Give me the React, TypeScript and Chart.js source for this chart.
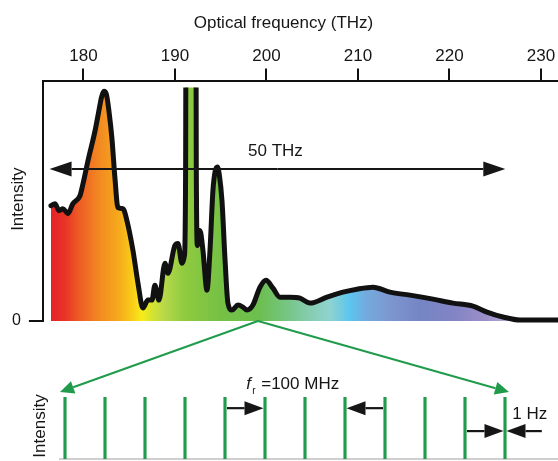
import React, { useEffect, useRef } from "react";
import { Chart, registerables } from "chart.js";

Chart.register(...registerables);

// ---------- data ----------
const specFreq = [176.45, 176.89, 177.32, 177.76, 178.31, 178.85, 179.62, 179.95, 180.49, 181.26, 181.8, 181.97, 182.24, 182.51, 182.79, 183.11, 183.44, 183.77, 184.32, 184.75, 185.41, 185.96, 186.5, 187.05, 187.49, 187.81, 188.25, 188.91, 189.23, 190.0, 190.33, 190.77, 191.04, 191.17, 191.22, 192.27, 192.33, 192.46, 192.73, 193.06, 193.5, 193.83, 194.15, 194.4, 194.64, 194.85, 195.14, 195.46, 195.79, 196.23, 196.89, 197.43, 197.87, 198.52, 199.29, 199.95, 200.71, 201.48, 202.57, 203.66, 204.75, 206.61, 208.36, 209.89, 211.64, 213.5, 215.68, 218.2, 220.38, 222.57, 224.1, 225.85, 227.71, 229.35, 231.86];
const specInt = [116, 118, 111, 113, 108, 118, 126, 138, 161, 191, 217, 225, 231, 228, 211, 184, 144, 114, 113, 101, 71, 38, 13, 21, 21, 36, 21, 58, 48, 76, 78, 58, 66, 161, 420, 420, 161, 76, 91, 71, 31, 71, 131, 151, 155, 147, 121, 64, 18, 11, 16, 14, 11, 16, 34, 41, 33, 24, 24, 23, 18, 24, 29, 32, 34, 29, 26, 22, 18, 15, 9, 4, 1, 1, 1];
const tickValues = [180, 190, 200, 210, 220, 230];
const xAxisTitle = "Optical frequency (THz)";
const yAxisTitle = "Intensity";
const spanStart = 176.3;
const spanEnd = 226.1;
const spanLabel = "50 THz";
const apexFreq = 199.07;

const combLines = [0, 1, 2, 3, 4, 5, 6, 7, 8, 9, 10, 11];
const combIntensity = [1, 1, 1, 1, 1, 1, 1, 1, 1, 1, 1, 1];
const repLabel = "=100 MHz";
const widthLabel = "1 Hz";

// ---------- styles ----------
const FONT = "'Liberation Sans', Arial, sans-serif";
const INK = "#161616";
const GREEN = "#1f9b4b";
const gradStops: [number, string][] = [
  [176.45, "#e42228"], [177.98, "#e83426"], [179.62, "#ee5e24"], [181.8, "#f28a21"],
  [183.99, "#f6ac1c"], [185.41, "#f8cf18"], [186.39, "#f9ec1a"], [187.27, "#dbe52c"],
  [188.91, "#b5d84a"], [191.09, "#8fca3f"], [194.92, "#76c145"], [199.29, "#6cbf4f"],
  [202.57, "#78c68a"], [204.75, "#86cdb0"], [206.94, "#8fd3d0"], [209.13, "#5bc5ef"],
  [210.77, "#72acde"], [213.5, "#7d97d0"], [216.78, "#7585c4"], [220.6, "#8384c4"],
  [223.88, "#9b8fc9"], [226.62, "#b6a8d6"], [229.89, "#d2c9e6"], [231.86, "#e0dcee"],
];

function specGradient(c: any) {
  const chart = c.chart;
  if (!chart.chartArea) return "#8c4";
  const xs = chart.scales.x;
  const x0 = xs.getPixelForValue(gradStops[0][0]);
  const x1 = xs.getPixelForValue(gradStops[gradStops.length - 1][0]);
  const g = chart.ctx.createLinearGradient(x0, 0, x1, 0);
  for (const [f, col] of gradStops) {
    const t = (xs.getPixelForValue(f) - x0) / (x1 - x0);
    g.addColorStop(Math.min(1, Math.max(0, t)), col);
  }
  return g;
}

function arrow(ctx: CanvasRenderingContext2D, x1: number, y1: number, x2: number, y2: number, head: number, half: number, color: string, lw: number) {
  const a = Math.atan2(y2 - y1, x2 - x1);
  const bx = x2 - head * Math.cos(a);
  const by = y2 - head * Math.sin(a);
  ctx.save();
  ctx.strokeStyle = color;
  ctx.fillStyle = color;
  ctx.lineWidth = lw;
  ctx.beginPath();
  ctx.moveTo(x1, y1);
  ctx.lineTo(bx, by);
  ctx.stroke();
  ctx.beginPath();
  ctx.moveTo(x2, y2);
  ctx.lineTo(bx + half * Math.sin(a), by - half * Math.cos(a));
  ctx.lineTo(bx - half * Math.sin(a), by + half * Math.cos(a));
  ctx.closePath();
  ctx.fill();
  ctx.restore();
}

function rotText(ctx: CanvasRenderingContext2D, text: string, x: number, y: number) {
  ctx.save();
  ctx.translate(x, y);
  ctx.rotate(-Math.PI / 2);
  ctx.textAlign = "center";
  ctx.textBaseline = "middle";
  ctx.fillText(text, 0, 0);
  ctx.restore();
}

export default function App() {
  const topRef = useRef<HTMLCanvasElement>(null);
  const botRef = useRef<HTMLCanvasElement>(null);

  useEffect(() => {
    document.body.style.margin = "0";
    Chart.defaults.font.family = FONT;

    const topDecor = {
      id: "topDecor",
      afterDatasetsDraw(chart: any) {
        const ctx = chart.ctx as CanvasRenderingContext2D;
        const xs = chart.scales.x;
        const ys = chart.scales.y;
        const area = chart.chartArea;
        ctx.save();
        ctx.fillStyle = INK;
        ctx.font = `17px ${FONT}`;
        ctx.textAlign = "center";
        ctx.textBaseline = "middle";
        ctx.fillText(xAxisTitle, (area.left + area.right) / 2 - 17, 23);
        rotText(ctx, yAxisTitle, 18, (area.top + area.bottom) / 2 - 2);
        const ay = ys.getPixelForValue(153);
        const xa = xs.getPixelForValue(spanStart);
        const xb = xs.getPixelForValue(spanEnd);
        const xm = (xa + xb) / 2;
        arrow(ctx, xm, ay, xa, ay, 22, 7.5, INK, 2);
        arrow(ctx, xm, ay, xb, ay, 22, 7.5, INK, 2);
        ctx.fillStyle = INK;
        ctx.font = `17px ${FONT}`;
        ctx.fillText(spanLabel, xm - 2, ay - 18);
        ctx.restore();
      },
    };

    const top = new Chart(topRef.current!, {
      type: "line",
      data: {
        datasets: [
          {
            data: specFreq.map((f, i) => ({ x: f, y: specInt[i] })),
            borderColor: "#111",
            borderWidth: 5,
            pointRadius: 0,
            fill: "origin",
            backgroundColor: specGradient as any,
            cubicInterpolationMode: "monotone",
            borderJoinStyle: "round",
            borderCapStyle: "round",
            clip: { left: 5, top: -6, right: 3, bottom: 5 } as any,
          },
        ],
      },
      options: {
        animation: false,
        responsive: true,
        maintainAspectRatio: false,
        layout: { padding: { left: 4, top: 44, right: 0, bottom: 140 } },
        plugins: { legend: { display: false }, tooltip: { enabled: false } },
        scales: {
          x: {
            type: "linear",
            position: "top",
            min: 175.57,
            max: 231.86,
            afterBuildTicks: (s: any) => {
              s.ticks = tickValues.map((v) => ({ value: v }));
            },
            ticks: { font: { size: 17 }, color: INK, padding: 2, maxRotation: 0, autoSkip: false },
            grid: { drawOnChartArea: false, drawTicks: true, tickLength: 13, color: "#111", lineWidth: 2 },
            border: { display: true, color: "#111", width: 2 },
          },
          y: {
            min: 0,
            max: 241,
            afterBuildTicks: (s: any) => {
              s.ticks = [{ value: 0 }];
            },
            ticks: { font: { size: 16 }, color: INK, padding: 8 },
            grid: { drawOnChartArea: false, drawTicks: true, tickLength: 14, color: "#111", lineWidth: 2 },
            border: { display: true, color: "#111", width: 2 },
          },
        },
      },
      plugins: [topDecor],
    });

    const botDecor = {
      id: "botDecor",
      afterDatasetsDraw(chart: any) {
        const ctx = chart.ctx as CanvasRenderingContext2D;
        const xs = chart.scales.x;
        const ys = chart.scales.y;
        const apX = top.scales.x.getPixelForValue(apexFreq);
        const apY = top.scales.y.getPixelForValue(0);
        const tipY = ys.getPixelForValue(1) - 5;
        arrow(ctx, apX, apY, xs.getPixelForValue(-0.125), tipY, 14, 6.5, GREEN, 2);
        arrow(ctx, apX, apY, xs.getPixelForValue(11.1), tipY, 14, 6.5, GREEN, 2);

        const y1 = ys.getPixelForValue(0.82);
        arrow(ctx, xs.getPixelForValue(4) + 2, y1, xs.getPixelForValue(5) - 1.5, y1, 19, 7, INK, 2.2);
        arrow(ctx, xs.getPixelForValue(8) - 2, y1, xs.getPixelForValue(7) + 1.5, y1, 19, 7, INK, 2.2);
        const y2 = ys.getPixelForValue(0.45);
        arrow(ctx, xs.getPixelForValue(10) + 2, y2, xs.getPixelForValue(11) - 1.5, y2, 19, 7, INK, 2.2);
        arrow(ctx, xs.getPixelForValue(11.92), y2, xs.getPixelForValue(11) + 1.5, y2, 19, 7, INK, 2.2);

        ctx.save();
        ctx.fillStyle = INK;
        ctx.textBaseline = "alphabetic";
        ctx.textAlign = "left";
        const fx = xs.getPixelForValue(4.53);
        const by = ys.getPixelForValue(1) - 8;
        ctx.font = `italic 17px ${FONT}`;
        ctx.fillText("f", fx, by);
        ctx.font = `10px ${FONT}`;
        ctx.fillText("r", fx + 6, by + 5);
        ctx.font = `17px ${FONT}`;
        ctx.fillText(repLabel, fx + 15, by);
        ctx.textAlign = "center";
        ctx.fillText(widthLabel, xs.getPixelForValue(11.62), ys.getPixelForValue(0.65));
        rotText(ctx, yAxisTitle, 40, (chart.chartArea.top + chart.chartArea.bottom) / 2 - 2);
        ctx.restore();
      },
    };

    const bot = new Chart(botRef.current!, {
      type: "bar",
      data: {
        datasets: [
          {
            data: combLines.map((n, i) => ({ x: n, y: combIntensity[i] })),
            backgroundColor: GREEN,
            borderWidth: 0,
            barThickness: 2.5,
          },
        ],
      },
      options: {
        animation: false,
        responsive: true,
        maintainAspectRatio: false,
        layout: { padding: { left: 60, top: 397, right: 0, bottom: 2 } },
        plugins: { legend: { display: false }, tooltip: { enabled: false } },
        scales: {
          x: {
            type: "linear",
            offset: false,
            min: -0.125,
            max: 12.325,
            ticks: { display: false },
            grid: { display: false, drawTicks: false, offset: false },
            border: { display: true, color: "#cfcfcf", width: 2 },
          },
          y: { display: false, min: 0, max: 1 },
        },
      },
      plugins: [botDecor],
    });

    return () => {
      top.destroy();
      bot.destroy();
    };
  }, []);

  const layer: React.CSSProperties = { position: "absolute", left: 0, top: 0, width: 558, height: 461 };
  return (
    <div style={{ position: "relative", width: 558, height: 461, background: "#fff" }}>
      <div style={layer}>
        <canvas ref={topRef} />
      </div>
      <div style={layer}>
        <canvas ref={botRef} />
      </div>
    </div>
  );
}
